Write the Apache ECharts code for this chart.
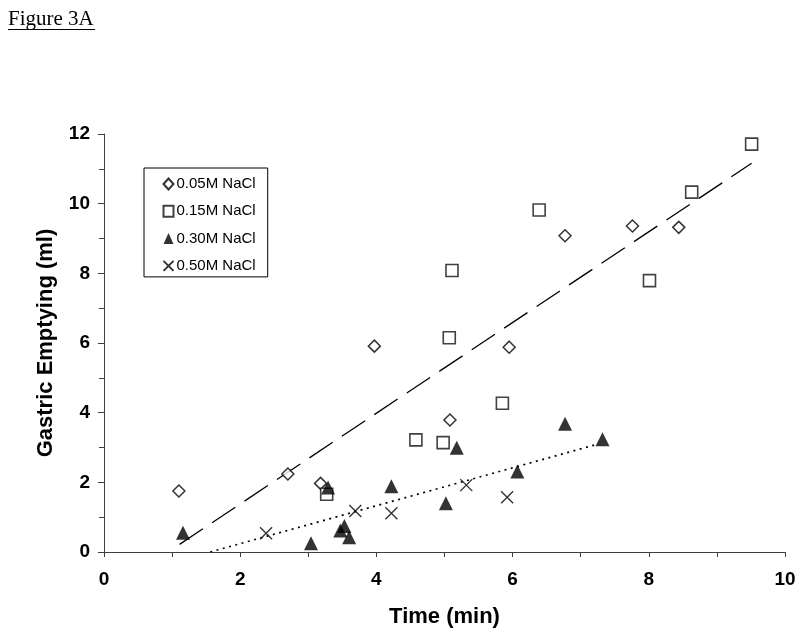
<!DOCTYPE html>
<html>
<head>
<meta charset="utf-8">
<script src="https://cdn.jsdelivr.net/npm/echarts@6/dist/echarts.min.js"></script>
<style>
html,body{margin:0;padding:0;background:#fff;}
#chart{width:800px;height:640px;}
</style>
</head>
<body>
<div id="chart"></div>
<script>
// Data
const seriesNames = ['0.05M NaCl', '0.15M NaCl', '0.30M NaCl', '0.50M NaCl'];
const x05 = [1.10, 2.70, 3.18, 3.97, 5.08, 5.95, 6.77, 7.76, 8.44];
const y05 = [1.75, 2.24, 1.97, 5.91, 3.79, 5.88, 9.08, 9.36, 9.32];
const x15 = [3.27, 4.58, 4.98, 5.07, 5.11, 5.85, 6.39, 8.01, 8.63, 9.51];
const y15 = [1.66, 3.22, 3.14, 6.15, 8.08, 4.27, 9.82, 7.79, 10.33, 11.71];
const x30 = [1.16, 3.04, 3.29, 3.47, 3.53, 3.60, 4.22, 5.02, 5.18, 6.07, 6.77, 7.32];
const y30 = [0.55, 0.25, 1.85, 0.62, 0.75, 0.42, 1.89, 1.40, 2.99, 2.31, 3.68, 3.24];
const x50 = [2.38, 3.69, 4.22, 5.32, 5.92];
const y50 = [0.54, 1.18, 1.11, 1.92, 1.57];
// trend lines (endpoints)
const dashX = [1.11, 9.51];
const dashY = [0.22, 11.16];
const dotX = [1.56, 7.20];
const dotY = [0.00, 3.07];

const xTitle = 'Time (min)';
const yTitle = 'Gastric Emptying (ml)';
const figTitle = 'Figure 3A';

function pairs(xs, ys) { return xs.map((x, i) => [x, ys[i]]); }

const FONT = "'Liberation Sans', Arial, sans-serif";
const AX = '#404040';
const crossPath = 'path://M0,0L10,10M10,0L0,10';

const chart = echarts.init(document.getElementById('chart'));
chart.setOption({
  animation: false,
  backgroundColor: '#fff',
  grid: { left: 104, right: 15, top: 134, bottom: 88 },
  graphic: [
    { type: 'text', left: 8, top: 9,
      style: { text: figTitle, font: "21px 'Liberation Serif', 'Times New Roman', serif", fill: '#000' } },
    { type: 'line', shape: { x1: 8, y1: 29.5, x2: 95, y2: 29.5 }, style: { stroke: '#000', lineWidth: 1 } }
  ],
  legend: {
    orient: 'vertical',
    left: 144, top: 168,
    data: seriesNames,
    borderColor: '#000', borderWidth: 1,
    padding: [8.5, 12, 3.5, 17],
    itemWidth: 10, itemHeight: 11, itemGap: 12.3,
    textStyle: { fontFamily: FONT, fontSize: 15, color: '#000', padding: [0, 0, 0, -2] }
  },
  xAxis: {
    type: 'value', min: 0, max: 10, interval: 2,
    name: xTitle, nameLocation: 'middle', nameGap: 54,
    nameTextStyle: { fontFamily: FONT, fontSize: 22, fontWeight: 'bold', color: '#000' },
    axisLine: { show: true, lineStyle: { color: AX, width: 1 } },
    axisTick: { show: true, length: 5, lineStyle: { color: AX } },
    minorTick: { show: true, splitNumber: 2, length: 5, lineStyle: { color: AX } },
    splitLine: { show: false },
    axisLabel: { fontFamily: FONT, fontSize: 19, fontWeight: 'bold', color: '#000', margin: 18 }
  },
  yAxis: {
    type: 'value', min: 0, max: 12, interval: 2,
    name: yTitle, nameLocation: 'middle', nameGap: 47, nameRotate: 90,
    nameTextStyle: { fontFamily: FONT, fontSize: 22, fontWeight: 'bold', color: '#000' },
    axisLine: { show: true, lineStyle: { color: AX, width: 1 } },
    axisTick: { show: true, length: 6, lineStyle: { color: AX } },
    minorTick: { show: true, splitNumber: 2, length: 5, lineStyle: { color: AX } },
    splitLine: { show: false },
    axisLabel: { fontFamily: FONT, fontSize: 19, fontWeight: 'bold', color: '#000', margin: 14 }
  },
  series: [
    { type: 'line', data: pairs(dashX, dashY), showSymbol: false, symbol: 'none', silent: true,
      lineStyle: { color: '#000', width: 1.3, type: [28, 11] }, z: 1 },
    { type: 'line', data: pairs(dotX, dotY), showSymbol: false, symbol: 'none', silent: true,
      lineStyle: { color: '#000', width: 1.7, type: [2, 4.5] }, z: 1 },
    { name: seriesNames[0], type: 'scatter', data: pairs(x05, y05), symbol: 'diamond', symbolSize: 12,
      itemStyle: { color: '#fff', borderColor: '#000', borderWidth: 1.5 }, z: 3 },
    { name: seriesNames[1], type: 'scatter', data: pairs(x15, y15), symbol: 'rect', symbolSize: 12,
      itemStyle: { color: '#fff', borderColor: '#111', borderWidth: 1.6 }, z: 3 },
    { name: seriesNames[2], type: 'scatter', data: pairs(x30, y30), symbol: 'triangle', symbolSize: 14,
      itemStyle: { color: '#000' }, z: 4 },
    { name: seriesNames[3], type: 'scatter', data: pairs(x50, y50), symbol: crossPath, symbolSize: 12,
      itemStyle: { color: 'none', borderColor: '#000', borderWidth: 1.4 }, z: 4 }
  ]
});
</script>
</body>
</html>
